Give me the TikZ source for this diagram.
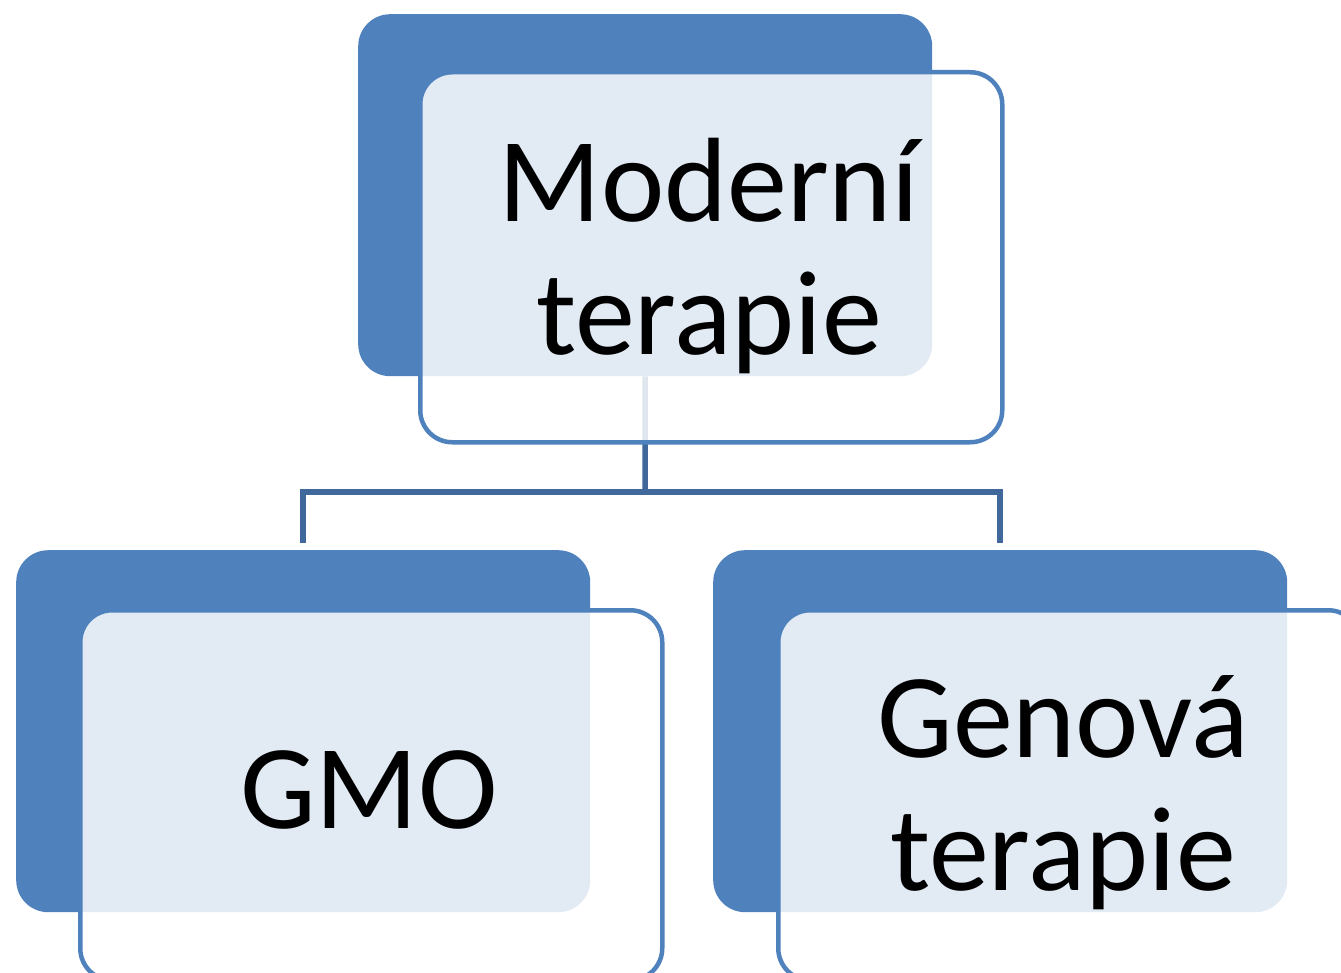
\documentclass[tikz,border=0pt]{standalone}
\usepackage{fontspec}
\setmainfont{Carlito}
\definecolor{accentblue}{HTML}{4F81BD}
\definecolor{linkblue}{HTML}{41689A}

\tikzset{
	backbox/.style={fill=accentblue, rounded corners=32pt, inner sep=0pt,
		minimum width=574pt, minimum height=362pt, anchor=north west},
	frontbox/.style={draw=accentblue, line width=4.5pt, fill=white, fill opacity=0.84,
		rounded corners=32pt, inner sep=0pt, minimum width=582pt, minimum height=370pt,
		anchor=north west},
	boxtext/.style={font=\fontsize{120pt}{133pt}\selectfont, anchor=base, inner sep=0pt},
	link/.style={draw=linkblue, line width=5.5pt}
}

\begin{document}
\begin{tikzpicture}[x=1pt,y=-1pt]
	\useasboundingbox (0,0) rectangle (1341,973);
	\clip (0,0) rectangle (1341,973);
	% back boxes
	\node[backbox] (topback) at (358,14) {};
	\node[backbox] (leftback) at (16,550) {};
	\node[backbox] (rightback) at (713,550) {};
	% connectors
	\coordinate (fork) at (645,492);
	\draw[link] (topback.south) -- (fork);
	\draw[link, shorten >=7pt] (fork) -| (leftback.north);
	\draw[link, shorten >=7pt] (fork) -| (rightback.north);
	% front boxes
	\node[frontbox] (topfront) at (418,70) {};
	\node[frontbox] (leftfront) at (78,608) {};
	\node[frontbox] (rightfront) at (776,608) {};
	% texts
	\node[boxtext] (toptitle) at (709,222) {Moderní};
	\node[boxtext] (topsub) at (709,355) {terapie};
	\node[boxtext] (lefttitle) at (369,828) {GMO};
	\node[boxtext] (righttitle) at (1063,757) {Genová};
	\node[boxtext] (rightsub) at (1063,890) {terapie};
\end{tikzpicture}
\end{document}
